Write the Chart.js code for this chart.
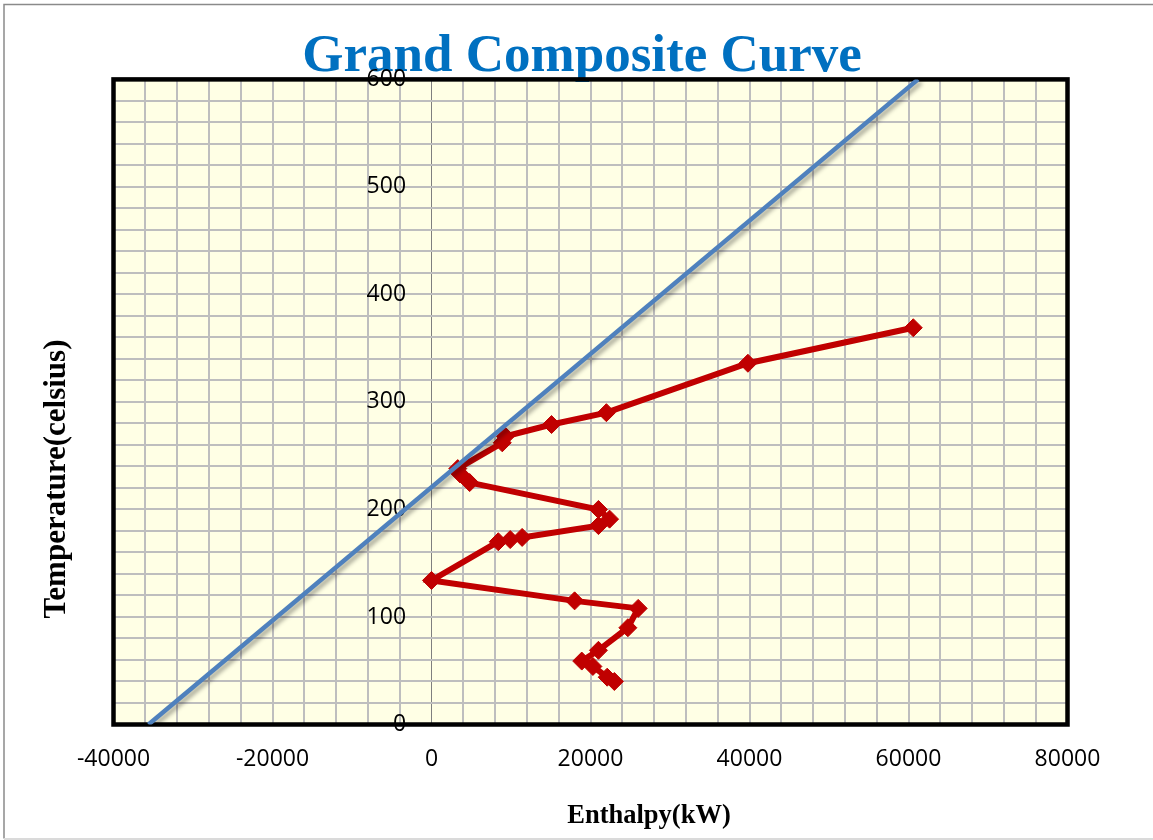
<!DOCTYPE html>
<html>
<head>
<meta charset="utf-8">
<script src="https://cdn.jsdelivr.net/npm/chart.js@4/dist/chart.umd.min.js"></script>
<style>
  html, body { margin: 0; padding: 0; background: #ffffff; }
  #wrap { width: 1153px; height: 840px; }
</style>
</head>
<body>
<div id="wrap"><canvas id="gcc" width="1153" height="840"></canvas></div>
<script>
// Grand composite curve: shifted temperature vs. net heat flow
const enthalpy = [60600, 39800, 22000, 15100, 9300, 8900, 3300, 3600, 4800,
                  21000, 22400, 21000, 11400, 9900, 8400, 0, 18000, 26000,
                  24700, 21000, 18900, 20300, 22100, 23000];
const temperature = [369, 336, 290, 279, 268, 262, 238, 233, 225,
                     200, 191, 185, 174, 172, 170, 134, 115, 108,
                     90, 69, 59, 54, 44, 40];

// Straight reference line
const lineEnthalpy = [-35600, 61200];
const lineTemperature = [0, 600];

// Axis ranges and label steps
const xRange = [-40000, 80000];
const yRange = [0, 600];
const xGridStep = 4000, xLabelStep = 20000;
const yGridStep = 20, yLabelStep = 100;

const toPoints = (xs, ys) => xs.map((x, i) => ({ x: x, y: ys[i] }));

const plotFrame = {
  id: 'plotFrame',
  beforeDraw(chart) {
    const { ctx, chartArea: a } = chart;
    ctx.save();
    ctx.fillStyle = '#FFFFE5';
    ctx.fillRect(a.left, a.top, a.right - a.left, a.bottom - a.top);
    ctx.restore();
  },
  beforeDatasetsDraw(chart) {
    const { ctx, chartArea: a } = chart;
    ctx.save();
    ctx.strokeStyle = '#000000';
    ctx.lineWidth = 4.5;
    ctx.strokeRect(a.left, a.top, a.right - a.left, a.bottom - a.top);
    ctx.restore();
  },
  beforeDatasetDraw(chart, args) {
    if (args.index === 0) {
      const ctx = chart.ctx;
      ctx.save();
      ctx.shadowColor = 'rgba(0,0,0,0.35)';
      ctx.shadowBlur = 4;
      ctx.shadowOffsetX = 3;
      ctx.shadowOffsetY = 3;
    }
  },
  afterDatasetDraw(chart, args) {
    if (args.index === 0) chart.ctx.restore();
  },
  afterDraw(chart) {
    const ctx = chart.ctx;
    ctx.save();
    // axis captions
    ctx.fillStyle = '#000000';
    ctx.textAlign = 'center';
    ctx.textBaseline = 'middle';
    ctx.font = 'bold 26.5px "Liberation Serif"';
    ctx.fillText('Enthalpy(kW)', 649, 816);
    ctx.translate(56.5, 479);
    ctx.rotate(-Math.PI / 2);
    ctx.font = 'bold 31px "Liberation Serif"';
    ctx.fillText('Temperature(celsius)', 0, 0);
    ctx.restore();
    // outer frame
    ctx.save();
    ctx.strokeStyle = '#8A8A8A';
    ctx.lineWidth = 1.5;
    ctx.beginPath();
    ctx.moveTo(1153, 4.5);
    ctx.lineTo(4, 4.5);
    ctx.lineTo(4, 838.5);
    ctx.stroke();
    ctx.strokeStyle = '#DADADA';
    ctx.lineWidth = 2;
    ctx.beginPath();
    ctx.moveTo(4, 839);
    ctx.lineTo(1153, 839);
    ctx.stroke();
    ctx.restore();
  }
};

new Chart(document.getElementById('gcc'), {
  type: 'scatter',
  data: {
    datasets: [
      {
        data: toPoints(lineEnthalpy, lineTemperature),
        showLine: true,
        borderColor: '#4F81BD',
        borderWidth: 4.5,
        pointRadius: 0,
        fill: false
      },
      {
        data: toPoints(enthalpy, temperature),
        showLine: true,
        borderColor: '#C00000',
        backgroundColor: '#C00000',
        borderWidth: 6,
        pointStyle: 'rectRot',
        pointRadius: 9,
        pointBorderWidth: 1,
        pointBorderColor: '#C00000',
        pointBackgroundColor: '#C00000',
        fill: false
      }
    ]
  },
  options: {
    responsive: false,
    animation: false,
    events: [],
    layout: { padding: { left: 11, right: 0, top: 0, bottom: 0 } },
    plugins: {
      legend: { display: false },
      tooltip: { enabled: false },
      title: {
        display: true,
        text: 'Grand Composite Curve',
        color: '#0070C0',
        font: { family: '"Liberation Serif"', size: 53, weight: 'bold', lineHeight: 0.8 },
        padding: { top: 36, bottom: 1 }
      }
    },
    scales: {
      x: {
        type: 'linear',
        position: 'bottom',
        min: xRange[0],
        max: xRange[1],
        afterFit(s) { s.height = 115.5; },
        border: { display: false },
        grid: {
          drawTicks: false,
          color: c => (c.tick && c.tick.value === 0 ? '#7F7F7F' : '#BEBEBE'),
          lineWidth: c => (c.tick && c.tick.value === 0 ? 1 : 2)
        },
        ticks: {
          stepSize: xGridStep,
          autoSkip: false,
          maxRotation: 0,
          padding: 21,
          color: '#000000',
          font: { family: '"Open Sans"', size: 23 },
          callback: v => (Math.round(v) % xLabelStep === 0 ? String(Math.round(v)) : '')
        }
      },
      y: {
        type: 'linear',
        // labels sit just left of the zero-enthalpy line
        position: { x: -3200 },
        min: yRange[0],
        max: yRange[1],
        afterFit(s) { s.width = 0; },
        border: { display: false },
        grid: { drawTicks: false, color: '#BEBEBE', lineWidth: 2 },
        ticks: {
          stepSize: yGridStep,
          autoSkip: false,
          color: '#000000',
          font: { family: '"Open Sans"', size: 23 },
          callback: v => (Math.round(v) % yLabelStep === 0 ? String(Math.round(v)) : '')
        }
      },
      yl: {
        type: 'linear',
        position: 'left',
        afterFit(s) { s.width = 102.5; },
        border: { display: false },
        grid: { display: false, drawTicks: false },
        ticks: { display: false }
      },
      yr: {
        type: 'linear',
        position: 'right',
        afterFit(s) { s.width = 85.5; },
        border: { display: false },
        grid: { display: false, drawTicks: false },
        ticks: { display: false }
      }
    }
  },
  plugins: [plotFrame]
});
</script>
</body>
</html>
